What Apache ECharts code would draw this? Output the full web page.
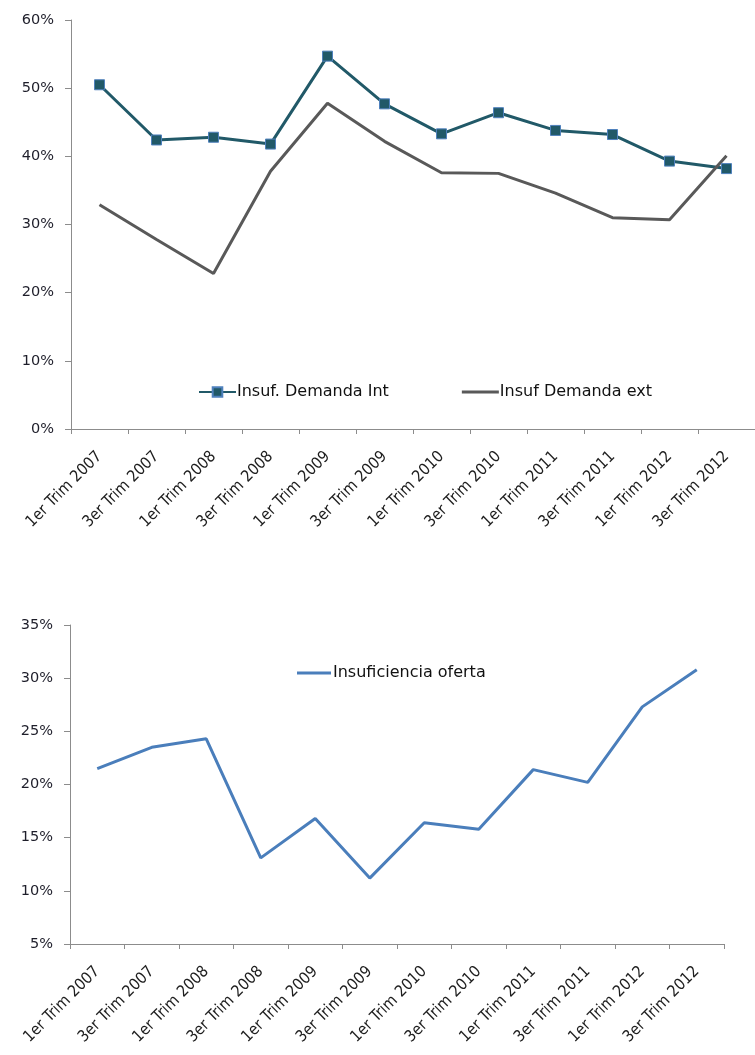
<!DOCTYPE html>
<html>
<head>
<meta charset="utf-8">
<script src="https://cdn.jsdelivr.net/npm/echarts@6/dist/echarts.min.js"></script>
<style>
html,body{margin:0;padding:0;background:#fff;}
#c{width:755px;height:1055px;}
</style>
</head>
<body>
<div id="c"></div>
<script>
var categories = ["1er Trim 2007","3er Trim 2007","1er Trim 2008","3er Trim 2008","1er Trim 2009","3er Trim 2009","1er Trim 2010","3er Trim 2010","1er Trim 2011","3er Trim 2011","1er Trim 2012","3er Trim 2012"];
var demandaInt = [50.5, 42.4, 42.8, 41.8, 54.7, 47.7, 43.3, 46.4, 43.8, 43.2, 39.3, 38.2];
var demandaExt = [32.9, 27.8, 22.8, 37.8, 47.8, 42.2, 37.6, 37.5, 34.6, 31.0, 30.7, 40.1];
var oferta = [21.5, 23.5, 24.3, 13.1, 16.8, 11.2, 16.4, 15.8, 21.4, 20.2, 27.3, 30.8];
var topTicks = [0, 60, 10];
var bottomTicks = [5, 35, 5];

var chart = echarts.init(document.getElementById('c'), null, {renderer:'canvas'});
var fontY = 'DejaVu Sans';
var axisGray = '#8c8c8c';
var lineIcon = 'path://M0,0 L36,0 L36,3 L0,3 Z';
function xAxisCfg(gridIndex){
  return {
    type:'category', gridIndex:gridIndex, data:categories, boundaryGap:true,
    axisLine:{lineStyle:{color:axisGray, width:1}},
    axisTick:{show:true, length:5, lineStyle:{color:axisGray}, interval:0},
    axisLabel:{interval:0, rotate:45, color:'#1e1e1e', fontFamily:'DejaVu Sans Condensed, DejaVu Sans', fontSize:16, margin:25}
  };
}
function yAxisCfg(gridIndex, t){
  return {
    type:'value', gridIndex:gridIndex, min:t[0], max:t[1], interval:t[2],
    axisLine:{show:true, lineStyle:{color:axisGray, width:1}},
    axisTick:{show:true, length:6, lineStyle:{color:axisGray}},
    splitLine:{show:false},
    axisLabel:{formatter:'{value}%', color:'#1e1e2a', fontFamily:fontY, fontSize:14.5, margin:17}
  };
}
chart.setOption({
  animation:false,
  backgroundColor:'#ffffff',
  grid:[
    {left:71, top:20, width:692, height:409},
    {left:70, top:625, width:654, height:319}
  ],
  xAxis:[xAxisCfg(0), xAxisCfg(1)],
  yAxis:[yAxisCfg(0, topTicks), yAxisCfg(1, bottomTicks)],
  legend:[
    {data:[{name:'Insuf. Demanda Int'},{name:'Insuf Demanda ext', icon:lineIcon}], left:193, top:379, itemGap:73, itemWidth:37, itemHeight:12,
     textStyle:{fontFamily:fontY, fontSize:16, color:'#111', padding:[0,0,0,-4]}},
    {data:[{name:'Insuficiencia oferta', icon:lineIcon}], left:292, top:660, itemWidth:34, itemHeight:12,
     textStyle:{fontFamily:fontY, fontSize:16, color:'#111', padding:[0,0,0,-3]}}
  ],
  series:[
    {name:'Insuf. Demanda Int', type:'line', xAxisIndex:0, yAxisIndex:0, data:demandaInt,
     symbol:'rect', symbolSize:10, showSymbol:true,
     lineStyle:{color:'#215968', width:3},
     itemStyle:{color:'#215968', borderColor:'#4f81bd', borderWidth:1}},
    {name:'Insuf Demanda ext', type:'line', xAxisIndex:0, yAxisIndex:0, data:demandaExt,
     symbol:'none', lineStyle:{color:'#595959', width:3}, itemStyle:{color:'#595959'}},
    {name:'Insuficiencia oferta', type:'line', xAxisIndex:1, yAxisIndex:1, data:oferta,
     symbol:'none', lineStyle:{color:'#4a7ebb', width:3}, itemStyle:{color:'#4a7ebb'}}
  ]
});
</script>
</body>
</html>
